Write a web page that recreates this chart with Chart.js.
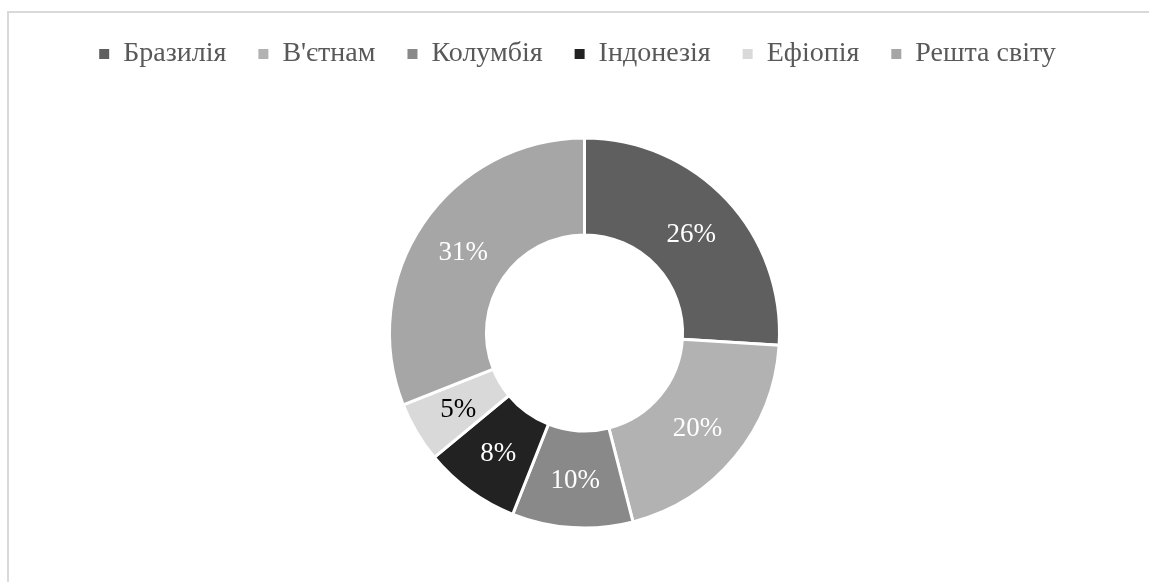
<!DOCTYPE html>
<html>
<head>
<meta charset="utf-8">
<script src="https://cdn.jsdelivr.net/npm/chart.js@4"></script>
<style>
  html, body { margin: 0; padding: 0; width: 1149px; height: 582px; overflow: hidden; background: #fff; }
  #frame { position: absolute; left: 7px; top: 11px; width: 1300px; height: 800px; border: 2px solid #d9d9d9; box-sizing: border-box; }
  #wrap { position: absolute; left: 0; top: 0; width: 1149px; height: 582px; }
</style>
</head>
<body>
<div id="frame"></div>
<div id="wrap"><canvas id="c" width="1149" height="582"></canvas></div>
<script>
const categories = ["Бразилія", "В'єтнам", "Колумбія", "Індонезія", "Ефіопія", "Решта світу"];
const shares = [26, 20, 10, 8, 5, 31];
const sliceColors = ["#5f5f5f", "#b2b2b2", "#898989", "#222222", "#d9d9d9", "#a6a6a6"];
const labelColors = ["#ffffff", "#ffffff", "#ffffff", "#ffffff", "#000000", "#ffffff"];

// pick an installed serif face
function pickSerif() {
  const cands = ['Liberation Serif', 'Times New Roman', 'Tinos', 'Times', 'DejaVu Serif', 'Noto Serif', 'FreeSerif'];
  const cv = document.createElement('canvas').getContext('2d');
  const sample = 'Бразилія 26% Решта світу WMiil';
  const base = {};
  ['monospace', 'sans-serif'].forEach(b => { cv.font = '40px ' + b; base[b] = cv.measureText(sample).width; });
  for (const f of cands) {
    let ok = true;
    for (const b of ['monospace', 'sans-serif']) {
      cv.font = '40px "' + f + '", ' + b;
      if (Math.abs(cv.measureText(sample).width - base[b]) < 0.01) ok = false;
    }
    if (ok) return '"' + f + '", serif';
  }
  return '"Liberation Sans", Arial, sans-serif';
}
const serif = pickSerif();

const pctLabels = {
  id: 'pctLabels',
  afterDatasetsDraw(chart) {
    const ctx = chart.ctx;
    const meta = chart.getDatasetMeta(0);
    const data = chart.data.datasets[0].data;
    const total = data.reduce((a, b) => a + b, 0);
    ctx.save();
    ctx.font = '27px ' + serif;
    ctx.textAlign = 'center';
    ctx.textBaseline = 'middle';
    meta.data.forEach((arc, i) => {
      const p = arc.tooltipPosition();
      ctx.fillStyle = labelColors[i];
      ctx.fillText(Math.round(data[i] / total * 100) + '%', p.x, p.y + 2);
    });
    ctx.restore();
  }
};

const legendSpace = {
  id: 'legendSpace',
  beforeInit(chart) {
    const origFit = chart.legend.fit;
    chart.legend.fit = function () { origFit.call(this); this.height += 6; };
  },
  afterLayout(chart) {
    // legend row sits slightly left of the ring centre in the reference
    chart.legend.left -= 7;
    chart.legend.right -= 7;
  }
};

new Chart(document.getElementById('c'), {
  type: 'doughnut',
  data: {
    labels: categories,
    datasets: [{
      data: shares,
      backgroundColor: sliceColors,
      borderColor: '#ffffff',
      borderWidth: 3,
      radius: 195,
      cutout: '50.3%'
    }]
  },
  options: {
    responsive: false,
    animation: false,
    layout: { padding: { top: 8, bottom: 0, left: 20, right: 0 } },
    plugins: {
      tooltip: { enabled: false },
      legend: {
        position: 'top',
        labels: {
          font: { family: serif, size: 28 },
          color: '#595959',
          boxWidth: 10,
          boxHeight: 10,
          padding: 32,
          generateLabels(chart) {
            const items = Chart.overrides.doughnut.plugins.legend.labels.generateLabels(chart);
            items.forEach(it => { it.lineWidth = 0; it.strokeStyle = 'rgba(0,0,0,0)'; it.fontColor = '#595959'; });
            return items;
          }
        }
      }
    }
  },
  plugins: [legendSpace, pctLabels]
});
</script>
</body>
</html>
